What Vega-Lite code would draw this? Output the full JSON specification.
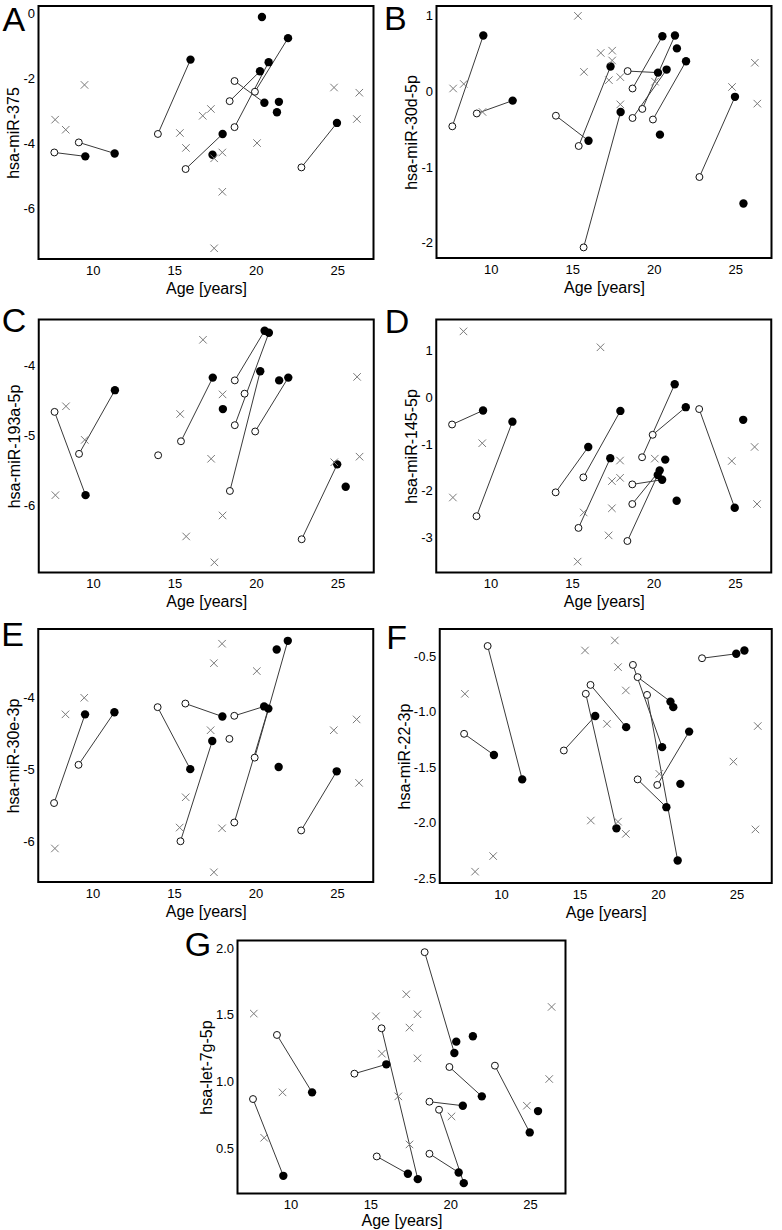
{
  "$schema": "https://vega.github.io/schema/vega-lite/v6.json",
  "background": "white",
  "padding": {"left": 0, "top": 1, "right": 0, "bottom": 0},
  "config": {
    "font": "Liberation Sans",
    "view": {"stroke": "black", "strokeWidth": 2},
    "axis": {"grid": false, "domain": false, "ticks": false, "labelFontSize": 13, "labelColor": "black", "titleFontSize": 16, "titleFontWeight": "normal", "titleColor": "black", "labelFont": "Liberation Sans", "titleFont": "Liberation Sans", "labelFlush": false, "labelOverlap": false},
    "axisX": {"labelPadding": 5, "titlePadding": 3},
    "axisY": {"labelPadding": 4, "titlePadding": 1},
    "title": {"fontSize": 34, "fontWeight": "normal", "anchor": "start", "frame": "group", "color": "black", "font": "Liberation Sans"}
  },
  "datasets": {
    "A": [
      {"t":"o","a":7.65,"v":-4.29,"g":1},{"t":"o","a":9.15,"v":-3.98,"g":2},{"t":"o","a":14.0,"v":-3.72,"g":3},{"t":"o","a":15.7,"v":-4.80,"g":5},{"t":"o","a":18.4,"v":-2.71,"g":6},{"t":"o","a":18.7,"v":-2.09,"g":7},{"t":"o","a":18.7,"v":-3.51,"g":8},{"t":"o","a":19.95,"v":-2.42,"g":10},{"t":"o","a":22.8,"v":-4.75,"g":11},
      {"t":"f","a":9.55,"v":-4.41,"g":1},{"t":"f","a":11.35,"v":-4.32,"g":2},{"t":"f","a":16.0,"v":-1.43,"g":3},{"t":"f","a":17.35,"v":-4.36},{"t":"f","a":17.97,"v":-3.72,"g":5},{"t":"f","a":20.26,"v":-1.79,"g":6},{"t":"f","a":20.38,"v":-0.12},{"t":"f","a":20.53,"v":-2.76,"g":7},{"t":"f","a":20.79,"v":-1.51,"g":8},{"t":"f","a":21.3,"v":-3.05},{"t":"f","a":21.42,"v":-2.73},{"t":"f","a":21.98,"v":-0.77,"g":10},{"t":"f","a":24.98,"v":-3.38,"g":11},
      {"t":"x","a":7.7,"v":-3.28},{"t":"x","a":8.35,"v":-3.59},{"t":"x","a":9.5,"v":-2.21},{"t":"x","a":15.35,"v":-3.69},{"t":"x","a":15.72,"v":-4.15},{"t":"x","a":16.75,"v":-3.16},{"t":"x","a":17.25,"v":-2.95},{"t":"x","a":17.45,"v":-4.47},{"t":"x","a":17.45,"v":-7.24},{"t":"x","a":17.95,"v":-4.29},{"t":"x","a":17.95,"v":-5.50},{"t":"x","a":20.08,"v":-4.0},{"t":"x","a":24.8,"v":-2.29},{"t":"x","a":26.2,"v":-3.26},{"t":"x","a":26.35,"v":-2.45}
    ],
    "B": [
      {"t":"o","a":7.65,"v":-0.46,"g":1},{"t":"o","a":9.15,"v":-0.29,"g":2},{"t":"o","a":14.0,"v":-0.32,"g":3},{"t":"o","a":15.4,"v":-0.72,"g":4},{"t":"o","a":15.7,"v":-2.06,"g":5},{"t":"o","a":18.4,"v":0.27,"g":6},{"t":"o","a":18.7,"v":0.04,"g":7},{"t":"o","a":18.7,"v":-0.35,"g":8},{"t":"o","a":19.3,"v":-0.23,"g":9},{"t":"o","a":19.95,"v":-0.37,"g":10},{"t":"o","a":22.8,"v":-1.13,"g":11},
      {"t":"f","a":9.55,"v":0.74,"g":1},{"t":"f","a":11.35,"v":-0.12,"g":2},{"t":"f","a":16.0,"v":-0.65,"g":3},{"t":"f","a":17.35,"v":0.33,"g":4},{"t":"f","a":17.97,"v":-0.27,"g":5},{"t":"f","a":20.26,"v":0.25,"g":6},{"t":"f","a":20.38,"v":-0.57},{"t":"f","a":20.53,"v":0.73,"g":7},{"t":"f","a":20.79,"v":0.29,"g":8},{"t":"f","a":21.3,"v":0.74,"g":9},{"t":"f","a":21.42,"v":0.57},{"t":"f","a":21.98,"v":0.40,"g":10},{"t":"f","a":24.98,"v":-0.07,"g":11},{"t":"f","a":25.5,"v":-1.48},
      {"t":"x","a":7.7,"v":0.04},{"t":"x","a":8.35,"v":0.10},{"t":"x","a":9.5,"v":-0.27},{"t":"x","a":15.35,"v":1.0},{"t":"x","a":15.72,"v":0.26},{"t":"x","a":16.75,"v":0.51},{"t":"x","a":17.25,"v":0.15},{"t":"x","a":17.45,"v":0.54},{"t":"x","a":17.45,"v":0.41},{"t":"x","a":17.95,"v":0.19},{"t":"x","a":17.95,"v":-0.17},{"t":"x","a":20.08,"v":0.13},{"t":"x","a":24.8,"v":0.06},{"t":"x","a":26.2,"v":0.38},{"t":"x","a":26.35,"v":-0.16}
    ],
    "C": [
      {"t":"o","a":7.65,"v":-4.66,"g":1},{"t":"o","a":9.15,"v":-5.26,"g":2},{"t":"o","a":14.0,"v":-5.28},{"t":"o","a":15.4,"v":-5.08,"g":4},{"t":"o","a":18.4,"v":-5.79,"g":6},{"t":"o","a":18.7,"v":-4.21,"g":7},{"t":"o","a":18.7,"v":-4.85,"g":8},{"t":"o","a":19.3,"v":-4.40},{"t":"o","a":19.95,"v":-4.94,"g":10},{"t":"o","a":22.8,"v":-6.48,"g":11},
      {"t":"f","a":9.55,"v":-5.85,"g":1},{"t":"f","a":11.35,"v":-4.35,"g":2},{"t":"f","a":17.35,"v":-4.17,"g":4},{"t":"f","a":17.97,"v":-4.62},{"t":"f","a":20.26,"v":-4.08,"g":6},{"t":"f","a":20.53,"v":-3.50,"g":7},{"t":"f","a":20.79,"v":-3.53,"g":8},{"t":"f","a":21.42,"v":-4.21},{"t":"f","a":21.98,"v":-4.17,"g":10},{"t":"f","a":24.98,"v":-5.41,"g":11},{"t":"f","a":25.5,"v":-5.73},
      {"t":"x","a":7.7,"v":-5.85},{"t":"x","a":8.35,"v":-4.58},{"t":"x","a":9.5,"v":-5.06},{"t":"x","a":15.35,"v":-4.69},{"t":"x","a":15.72,"v":-6.44},{"t":"x","a":16.75,"v":-3.63},{"t":"x","a":17.25,"v":-5.33},{"t":"x","a":17.45,"v":-6.81},{"t":"x","a":17.95,"v":-4.41},{"t":"x","a":17.95,"v":-6.14},{"t":"x","a":24.8,"v":-5.38},{"t":"x","a":26.2,"v":-4.16},{"t":"x","a":26.35,"v":-5.30}
    ],
    "D": [
      {"t":"o","a":7.65,"v":-0.58,"g":1},{"t":"o","a":9.15,"v":-2.54,"g":2},{"t":"o","a":14.0,"v":-2.03,"g":3},{"t":"o","a":15.4,"v":-2.79,"g":4},{"t":"o","a":15.7,"v":-1.71,"g":5},{"t":"o","a":18.4,"v":-3.07,"g":6},{"t":"o","a":18.7,"v":-1.86,"g":7},{"t":"o","a":18.7,"v":-2.28,"g":8},{"t":"o","a":19.3,"v":-1.28,"g":9},{"t":"o","a":19.95,"v":-0.80,"g":10},{"t":"o","a":22.8,"v":-0.25,"g":11},
      {"t":"f","a":9.55,"v":-0.28,"g":1},{"t":"f","a":11.35,"v":-0.52,"g":2},{"t":"f","a":16.0,"v":-1.06,"g":3},{"t":"f","a":17.35,"v":-1.30,"g":4},{"t":"f","a":17.97,"v":-0.29,"g":5},{"t":"f","a":20.26,"v":-1.66,"g":6},{"t":"f","a":20.38,"v":-1.56,"g":8},{"t":"f","a":20.53,"v":-1.76,"g":7},{"t":"f","a":20.72,"v":-1.33},{"t":"f","a":21.3,"v":0.28,"g":9},{"t":"f","a":21.42,"v":-2.21},{"t":"f","a":21.98,"v":-0.21,"g":10},{"t":"f","a":24.98,"v":-2.36,"g":11},{"t":"f","a":25.5,"v":-0.48},
      {"t":"x","a":7.7,"v":-2.14},{"t":"x","a":8.35,"v":1.41},{"t":"x","a":9.5,"v":-0.98},{"t":"x","a":15.35,"v":-3.51},{"t":"x","a":15.72,"v":-2.46},{"t":"x","a":16.75,"v":1.07},{"t":"x","a":17.25,"v":-2.95},{"t":"x","a":17.45,"v":-1.79},{"t":"x","a":17.45,"v":-2.37},{"t":"x","a":17.95,"v":-1.35},{"t":"x","a":17.95,"v":-1.72},{"t":"x","a":20.08,"v":-1.31},{"t":"x","a":24.8,"v":-1.36},{"t":"x","a":26.2,"v":-1.06},{"t":"x","a":26.35,"v":-2.28}
    ],
    "E": [
      {"t":"o","a":7.65,"v":-5.47,"g":1},{"t":"o","a":9.15,"v":-4.94,"g":2},{"t":"o","a":14.0,"v":-4.14,"g":3},{"t":"o","a":15.4,"v":-6.0,"g":4},{"t":"o","a":15.7,"v":-4.09,"g":5},{"t":"o","a":18.4,"v":-4.58},{"t":"o","a":18.7,"v":-4.26,"g":7},{"t":"o","a":18.7,"v":-5.74,"g":8},{"t":"o","a":19.95,"v":-4.84,"g":10},{"t":"o","a":22.8,"v":-5.85,"g":11},
      {"t":"f","a":9.55,"v":-4.24,"g":1},{"t":"f","a":11.35,"v":-4.21,"g":2},{"t":"f","a":16.0,"v":-5.0,"g":3},{"t":"f","a":17.35,"v":-4.61,"g":4},{"t":"f","a":17.97,"v":-4.27,"g":5},{"t":"f","a":20.53,"v":-4.13,"g":7},{"t":"f","a":20.79,"v":-4.16,"g":8},{"t":"f","a":21.3,"v":-3.34},{"t":"f","a":21.42,"v":-4.97},{"t":"f","a":21.98,"v":-3.22,"g":10},{"t":"f","a":24.98,"v":-5.03,"g":11},
      {"t":"x","a":7.7,"v":-6.10},{"t":"x","a":8.35,"v":-4.24},{"t":"x","a":9.5,"v":-4.01},{"t":"x","a":15.35,"v":-5.81},{"t":"x","a":15.72,"v":-5.39},{"t":"x","a":17.25,"v":-4.46},{"t":"x","a":17.45,"v":-3.53},{"t":"x","a":17.45,"v":-6.43},{"t":"x","a":17.95,"v":-3.26},{"t":"x","a":17.95,"v":-5.82},{"t":"x","a":20.08,"v":-3.64},{"t":"x","a":24.8,"v":-4.46},{"t":"x","a":26.2,"v":-4.31},{"t":"x","a":26.35,"v":-5.19}
    ],
    "F": [
      {"t":"o","a":7.65,"v":-1.20,"g":1},{"t":"o","a":9.15,"v":-0.41,"g":2},{"t":"o","a":14.0,"v":-1.35,"g":3},{"t":"o","a":15.4,"v":-0.84,"g":4},{"t":"o","a":15.7,"v":-0.76,"g":5},{"t":"o","a":18.4,"v":-0.58,"g":6},{"t":"o","a":18.7,"v":-1.61,"g":7},{"t":"o","a":18.7,"v":-0.69,"g":8},{"t":"o","a":19.3,"v":-0.85,"g":9},{"t":"o","a":19.95,"v":-1.66,"g":10},{"t":"o","a":22.8,"v":-0.52,"g":11},
      {"t":"f","a":9.55,"v":-1.39,"g":1},{"t":"f","a":11.35,"v":-1.61,"g":2},{"t":"f","a":16.0,"v":-1.04,"g":3},{"t":"f","a":17.35,"v":-2.05,"g":4},{"t":"f","a":17.97,"v":-1.14,"g":5},{"t":"f","a":20.26,"v":-1.32,"g":6},{"t":"f","a":20.53,"v":-1.86,"g":7},{"t":"f","a":20.79,"v":-0.91,"g":8},{"t":"f","a":20.97,"v":-0.96},{"t":"f","a":21.25,"v":-2.34,"g":9},{"t":"f","a":21.42,"v":-1.65},{"t":"f","a":21.98,"v":-1.18,"g":10},{"t":"f","a":24.98,"v":-0.48,"g":11},{"t":"f","a":25.5,"v":-0.45},
      {"t":"x","a":7.7,"v":-0.84},{"t":"x","a":8.35,"v":-2.44},{"t":"x","a":9.5,"v":-2.30},{"t":"x","a":15.35,"v":-0.45},{"t":"x","a":15.72,"v":-1.98},{"t":"x","a":16.75,"v":-1.11},{"t":"x","a":17.25,"v":-0.36},{"t":"x","a":17.45,"v":-0.60},{"t":"x","a":17.45,"v":-1.99},{"t":"x","a":17.95,"v":-0.81},{"t":"x","a":17.95,"v":-2.10},{"t":"x","a":20.08,"v":-1.56},{"t":"x","a":24.8,"v":-1.45},{"t":"x","a":26.2,"v":-2.06},{"t":"x","a":26.35,"v":-1.13}
    ],
    "G": [
      {"t":"o","a":7.65,"v":0.87,"g":1},{"t":"o","a":9.15,"v":1.35,"g":2},{"t":"o","a":14.0,"v":1.06,"g":3},{"t":"o","a":15.4,"v":0.44,"g":4},{"t":"o","a":15.7,"v":1.40,"g":5},{"t":"o","a":18.4,"v":1.97,"g":6},{"t":"o","a":18.7,"v":0.46,"g":7},{"t":"o","a":18.7,"v":0.85,"g":8},{"t":"o","a":19.3,"v":0.79,"g":9},{"t":"o","a":19.95,"v":1.11,"g":10},{"t":"o","a":22.8,"v":1.12,"g":11},
      {"t":"f","a":9.55,"v":0.295,"g":1},{"t":"f","a":11.35,"v":0.92,"g":2},{"t":"f","a":16.0,"v":1.13,"g":3},{"t":"f","a":17.35,"v":0.31,"g":4},{"t":"f","a":17.97,"v":0.27,"g":5},{"t":"f","a":20.26,"v":1.215,"g":6},{"t":"f","a":20.38,"v":1.30},{"t":"f","a":20.53,"v":0.32,"g":7},{"t":"f","a":20.79,"v":0.82,"g":8},{"t":"f","a":20.85,"v":0.24,"g":9},{"t":"f","a":21.42,"v":1.34},{"t":"f","a":21.98,"v":0.89,"g":10},{"t":"f","a":24.98,"v":0.62,"g":11},{"t":"f","a":25.5,"v":0.78},
      {"t":"x","a":7.7,"v":1.51},{"t":"x","a":8.35,"v":0.58},{"t":"x","a":9.5,"v":0.92},{"t":"x","a":15.35,"v":1.49},{"t":"x","a":15.72,"v":1.21},{"t":"x","a":16.75,"v":0.89},{"t":"x","a":17.25,"v":1.655},{"t":"x","a":17.45,"v":1.405},{"t":"x","a":17.45,"v":0.53},{"t":"x","a":17.95,"v":1.505},{"t":"x","a":17.95,"v":1.175},{"t":"x","a":20.08,"v":0.74},{"t":"x","a":24.8,"v":0.82},{"t":"x","a":26.2,"v":1.02},{"t":"x","a":26.35,"v":1.56}
    ]
  },
  "vconcat": [
    {
      "hconcat": [
        {
          "data": {"name": "A"}, "width": 335, "height": 253,
          "title": {"text": "A", "dx": -36, "offset": -31.5},
          "encoding": {
            "x": {"field": "a", "type": "quantitative", "scale": {"domain": [6.68, 27.22], "nice": false, "zero": false}, "axis": {"values": [10, 15, 20, 25], "title": "Age [years]"}},
            "y": {"field": "v", "type": "quantitative", "scale": {"domain": [-7.57, 0.22], "nice": false, "zero": false}, "axis": {"values": [0, -2, -4, -6], "title": "hsa-miR-375", "labelExpr": "replace(datum.label, '−', '-')"}}
          },
          "layer": [
            {"transform": [{"filter": "isValid(datum.g)"}], "mark": {"type": "line", "color": "#3a3a3a", "strokeWidth": 1}, "encoding": {"detail": {"field": "g", "type": "nominal"}}},
            {"transform": [{"filter": "datum.t == 'o'"}], "mark": {"type": "point", "shape": "circle", "filled": false, "fill": "white", "stroke": "#111111", "strokeWidth": 1, "size": 48, "opacity": 1}},
            {"transform": [{"filter": "datum.t == 'f'"}], "mark": {"type": "circle", "color": "#000000", "size": 70, "opacity": 1}},
            {"transform": [{"filter": "datum.t == 'x'"}], "mark": {"type": "point", "shape": "M-1,-1L1,1M-1,1L1,-1", "filled": false, "stroke": "#7a7a7a", "strokeWidth": 1, "size": 56, "opacity": 1}}
          ]
        },
        {
          "data": {"name": "B"}, "width": 335, "height": 252,
          "title": {"text": "B", "dx": -52.5, "offset": -30.5},
          "encoding": {
            "x": {"field": "a", "type": "quantitative", "scale": {"domain": [6.68, 27.22], "nice": false, "zero": false}, "axis": {"values": [10, 15, 20, 25], "title": "Age [years]"}},
            "y": {"field": "v", "type": "quantitative", "scale": {"domain": [-2.2, 1.13], "nice": false, "zero": false}, "axis": {"values": [1, 0, -1, -2], "title": "hsa-miR-30d-5p", "labelExpr": "replace(datum.label, '−', '-')"}}
          },
          "layer": [
            {"transform": [{"filter": "isValid(datum.g)"}], "mark": {"type": "line", "color": "#3a3a3a", "strokeWidth": 1}, "encoding": {"detail": {"field": "g", "type": "nominal"}}},
            {"transform": [{"filter": "datum.t == 'o'"}], "mark": {"type": "point", "shape": "circle", "filled": false, "fill": "white", "stroke": "#111111", "strokeWidth": 1, "size": 48, "opacity": 1}},
            {"transform": [{"filter": "datum.t == 'f'"}], "mark": {"type": "circle", "color": "#000000", "size": 70, "opacity": 1}},
            {"transform": [{"filter": "datum.t == 'x'"}], "mark": {"type": "point", "shape": "M-1,-1L1,1M-1,1L1,-1", "filled": false, "stroke": "#7a7a7a", "strokeWidth": 1, "size": 56, "opacity": 1}}
          ]
        }
      ],
      "spacing": 8
    },
    {
      "hconcat": [
        {
          "data": {"name": "C"}, "width": 335, "height": 253,
          "title": {"text": "C", "dx": -37, "offset": -19.5},
          "encoding": {
            "x": {"field": "a", "type": "quantitative", "scale": {"domain": [6.68, 27.22], "nice": false, "zero": false}, "axis": {"values": [10, 15, 20, 25], "title": "Age [years]"}},
            "y": {"field": "v", "type": "quantitative", "scale": {"domain": [-6.955, -3.34], "nice": false, "zero": false}, "axis": {"values": [-4, -5, -6], "title": "hsa-miR-193a-5p", "labelExpr": "replace(datum.label, '−', '-')"}}
          },
          "layer": [
            {"transform": [{"filter": "isValid(datum.g)"}], "mark": {"type": "line", "color": "#3a3a3a", "strokeWidth": 1}, "encoding": {"detail": {"field": "g", "type": "nominal"}}},
            {"transform": [{"filter": "datum.t == 'o'"}], "mark": {"type": "point", "shape": "circle", "filled": false, "fill": "white", "stroke": "#111111", "strokeWidth": 1, "size": 48, "opacity": 1}},
            {"transform": [{"filter": "datum.t == 'f'"}], "mark": {"type": "circle", "color": "#000000", "size": 70, "opacity": 1}},
            {"transform": [{"filter": "datum.t == 'x'"}], "mark": {"type": "point", "shape": "M-1,-1L1,1M-1,1L1,-1", "filled": false, "stroke": "#7a7a7a", "strokeWidth": 1, "size": 56, "opacity": 1}}
          ]
        },
        {
          "data": {"name": "D"}, "width": 335, "height": 253,
          "title": {"text": "D", "dx": -51.5, "offset": -20.5},
          "encoding": {
            "x": {"field": "a", "type": "quantitative", "scale": {"domain": [6.68, 27.22], "nice": false, "zero": false}, "axis": {"values": [10, 15, 20, 25], "title": "Age [years]"}},
            "y": {"field": "v", "type": "quantitative", "scale": {"domain": [-3.743, 1.664], "nice": false, "zero": false}, "axis": {"values": [1, 0, -1, -2, -3], "title": "hsa-miR-145-5p", "labelExpr": "replace(datum.label, '−', '-')"}}
          },
          "layer": [
            {"transform": [{"filter": "isValid(datum.g)"}], "mark": {"type": "line", "color": "#3a3a3a", "strokeWidth": 1}, "encoding": {"detail": {"field": "g", "type": "nominal"}}},
            {"transform": [{"filter": "datum.t == 'o'"}], "mark": {"type": "point", "shape": "circle", "filled": false, "fill": "white", "stroke": "#111111", "strokeWidth": 1, "size": 48, "opacity": 1}},
            {"transform": [{"filter": "datum.t == 'f'"}], "mark": {"type": "circle", "color": "#000000", "size": 70, "opacity": 1}},
            {"transform": [{"filter": "datum.t == 'x'"}], "mark": {"type": "point", "shape": "M-1,-1L1,1M-1,1L1,-1", "filled": false, "stroke": "#7a7a7a", "strokeWidth": 1, "size": 56, "opacity": 1}}
          ]
        }
      ],
      "spacing": 8.5
    },
    {
      "hconcat": [
        {
          "data": {"name": "E"}, "width": 335, "height": 253,
          "title": {"text": "E", "dx": -37, "offset": -23.5},
          "encoding": {
            "x": {"field": "a", "type": "quantitative", "scale": {"domain": [6.68, 27.22], "nice": false, "zero": false}, "axis": {"values": [10, 15, 20, 25], "title": "Age [years]"}},
            "y": {"field": "v", "type": "quantitative", "scale": {"domain": [-6.565, -3.056], "nice": false, "zero": false}, "axis": {"values": [-4, -5, -6], "title": "hsa-miR-30e-3p", "labelExpr": "replace(datum.label, '−', '-')"}}
          },
          "layer": [
            {"transform": [{"filter": "isValid(datum.g)"}], "mark": {"type": "line", "color": "#3a3a3a", "strokeWidth": 1}, "encoding": {"detail": {"field": "g", "type": "nominal"}}},
            {"transform": [{"filter": "datum.t == 'o'"}], "mark": {"type": "point", "shape": "circle", "filled": false, "fill": "white", "stroke": "#111111", "strokeWidth": 1, "size": 48, "opacity": 1}},
            {"transform": [{"filter": "datum.t == 'f'"}], "mark": {"type": "circle", "color": "#000000", "size": 70, "opacity": 1}},
            {"transform": [{"filter": "datum.t == 'x'"}], "mark": {"type": "point", "shape": "M-1,-1L1,1M-1,1L1,-1", "filled": false, "stroke": "#7a7a7a", "strokeWidth": 1, "size": 56, "opacity": 1}}
          ]
        },
        {
          "data": {"name": "F"}, "width": 332, "height": 254,
          "title": {"text": "F", "dx": -53.5, "offset": -26.5},
          "encoding": {
            "x": {"field": "a", "type": "quantitative", "scale": {"domain": [6.1, 27.24], "nice": false, "zero": false}, "axis": {"values": [10, 15, 20, 25], "title": "Age [years]"}},
            "y": {"field": "v", "type": "quantitative", "scale": {"domain": [-2.542, -0.257], "nice": false, "zero": false}, "axis": {"values": [-0.5, -1, -1.5, -2, -2.5], "format": ".1f", "title": "hsa-miR-22-3p", "labelExpr": "replace(datum.label, '−', '-')"}}
          },
          "layer": [
            {"transform": [{"filter": "isValid(datum.g)"}], "mark": {"type": "line", "color": "#3a3a3a", "strokeWidth": 1}, "encoding": {"detail": {"field": "g", "type": "nominal"}}},
            {"transform": [{"filter": "datum.t == 'o'"}], "mark": {"type": "point", "shape": "circle", "filled": false, "fill": "white", "stroke": "#111111", "strokeWidth": 1, "size": 48, "opacity": 1}},
            {"transform": [{"filter": "datum.t == 'f'"}], "mark": {"type": "circle", "color": "#000000", "size": 70, "opacity": 1}},
            {"transform": [{"filter": "datum.t == 'x'"}], "mark": {"type": "point", "shape": "M-1,-1L1,1M-1,1L1,-1", "filled": false, "stroke": "#7a7a7a", "strokeWidth": 1, "size": 56, "opacity": 1}}
          ]
        }
      ],
      "spacing": 10.5
    },
    {
      "data": {"name": "G"}, "width": 328, "height": 253,
      "title": {"text": "G", "dx": -52.7, "offset": -22.5},
      "encoding": {
        "x": {"field": "a", "type": "quantitative", "scale": {"domain": [6.68, 27.22], "nice": false, "zero": false}, "axis": {"values": [10, 15, 20, 25], "title": "Age [years]", "titlePadding": 1}}
      },
      "layer": [
        {"transform": [{"filter": "isValid(datum.g)"}], "mark": {"type": "line", "color": "#3a3a3a", "strokeWidth": 1}, "encoding": {"detail": {"field": "g", "type": "nominal"}, "y": {"field": "v", "type": "quantitative", "scale": {"domain": [0.1625, 2.0575], "nice": false, "zero": false}, "axis": {"orient": "left", "values": [0.5, 1, 1.5, 2], "format": ".1f", "title": "hsa-let-7g-5p"}}}},
        {"transform": [{"filter": "datum.t == 'o'"}], "mark": {"type": "point", "shape": "circle", "filled": false, "fill": "white", "stroke": "#111111", "strokeWidth": 1, "size": 48, "opacity": 1}, "encoding": {"y": {"field": "v", "type": "quantitative", "scale": {"domain": [0.1625, 2.0575], "nice": false, "zero": false}, "axis": null}}},
        {"transform": [{"filter": "datum.t == 'f'"}], "mark": {"type": "circle", "color": "#000000", "size": 70, "opacity": 1}, "encoding": {"y": {"field": "v", "type": "quantitative", "scale": {"domain": [0.1625, 2.0575], "nice": false, "zero": false}, "axis": null}}},
        {"transform": [{"filter": "datum.t == 'x'"}], "mark": {"type": "point", "shape": "M-1,-1L1,1M-1,1L1,-1", "filled": false, "stroke": "#7a7a7a", "strokeWidth": 1, "size": 56, "opacity": 1}, "encoding": {"y": {"field": "v", "type": "quantitative", "scale": {"domain": [0.1625, 2.0575], "nice": false, "zero": false}, "axis": {"orient": "right", "labels": false, "domain": false, "ticks": true, "tickSize": 7, "tickOpacity": 0, "title": null, "values": [1], "grid": false}}}}
      ],
      "resolve": {"axis": {"y": "independent"}}
    }
  ],
  "spacing": 6.5,
  "center": true
}
